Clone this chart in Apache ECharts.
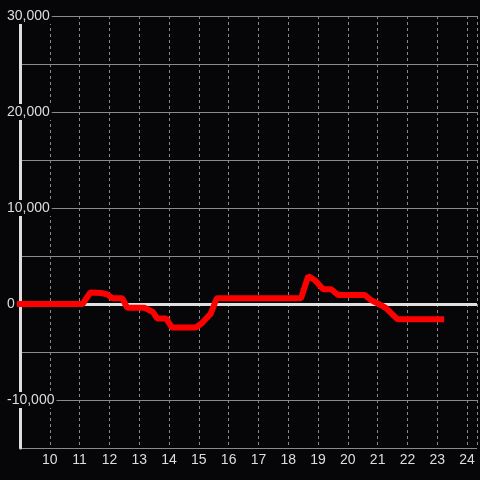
<!DOCTYPE html>
<html>
<head>
<meta charset="utf-8">
<style>
  html, body { margin: 0; padding: 0; background: #060608; }
  #chart { width: 480px; height: 480px; }
</style>
<script src="https://cdn.jsdelivr.net/npm/echarts@6/dist/echarts.min.js"></script>
</head>
<body>
<div id="chart"></div>
<script>
// Data (hour of day, value)
const hours = [9, 11.1, 11.36, 11.72, 11.93, 12.1, 12.43, 12.6, 13.17, 13.45, 13.6, 13.9, 14.1, 14.9, 15.1, 15.4, 15.6, 18.43, 18.67, 18.89, 19.17, 19.44, 19.67, 20.56, 20.78, 21.1, 21.27, 21.67, 23.13];
const values = [0, 0, 1200, 1150, 1000, 600, 600, -400, -400, -800, -1500, -1500, -2450, -2450, -2000, -1000, 600, 600, 2900, 2500, 1530, 1530, 940, 940, 400, -100, -400, -1600, -1600];
const xMin = 9, xMax = 24.333, xStep = 1;
const yMin = -15000, yMax = 30000, yStep = 5000, yLabelStep = 10000;

const bg = '#060608';
const chart = echarts.init(document.getElementById('chart'));
chart.setOption({
  backgroundColor: bg,
  animation: false,
  grid: { left: 20, right: 0, top: 16, bottom: 32, containLabel: false },
  xAxis: {
    type: 'value', min: xMin, max: xMax, interval: xStep,
    axisLine: { show: false }, axisTick: { show: false },
    axisLabel: {
      color: '#dddddd', fontSize: 14, fontFamily: 'Liberation Sans', margin: 5,
      formatter: v => (Number.isInteger(v) && v > xMin) ? String(v) : ''
    },
    splitLine: { show: true, lineStyle: { color: '#8a8a8a', width: 1, type: [3, 3] } }
  },
  yAxis: {
    type: 'value', min: yMin, max: yMax, interval: yStep,
    axisLine: { show: true, lineStyle: { color: '#dddddd', width: 3 } },
    axisTick: { show: false },
    splitLine: { show: true, lineStyle: { color: '#8a8a8a', width: 1 } },
    axisLabel: {
      align: 'left', margin: 15,
      formatter: v => (v % yLabelStep === 0) ? '{b|' + v.toLocaleString('en-US') + '}' : '',
      rich: {
        b: { color: '#dddddd', fontSize: 14, fontFamily: 'Liberation Sans', backgroundColor: bg, padding: [1, 2, 1, 2] }
      }
    }
  },
  series: [
    {
      type: 'line', data: [], z: 1, silent: true,
      markLine: {
        z: 1, silent: true, symbol: 'none', animation: false,
        label: { show: false },
        lineStyle: { color: '#e0e0e0', width: 3, type: 'solid' },
        data: [{ yAxis: 0 }]
      }
    },
    {
      type: 'line', z: 6, showSymbol: false, silent: true,
      data: hours.map((h, i) => [h, values[i]]),
      lineStyle: { color: '#ff0000', width: 6, cap: 'square' }
    }
  ]
});
</script>
</body>
</html>
